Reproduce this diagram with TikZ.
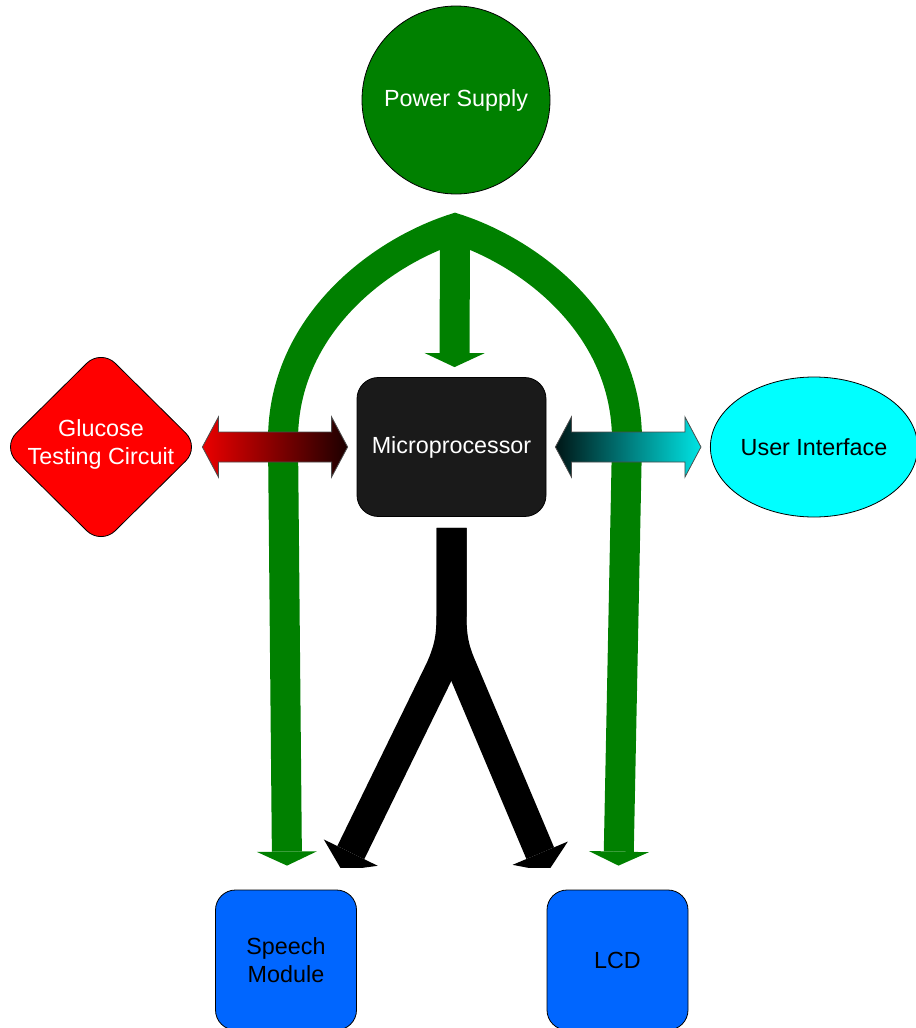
\documentclass[tikz,border=0pt]{standalone}
\usepackage{fontspec}
\setmainfont{Liberation Sans}
\usetikzlibrary{arrows.meta,shapes.geometric,calc}
\definecolor{pwrgreen}{RGB}{0,128,0}
\definecolor{cpugray}{RGB}{26,26,26}
\definecolor{modblue}{RGB}{0,102,255}
\definecolor{uicyan}{RGB}{0,255,255}
\definecolor{redlight}{RGB}{235,0,0}
\definecolor{reddark}{RGB}{28,0,0}
\definecolor{cyandark}{RGB}{0,22,22}
\definecolor{cyanlight}{RGB}{0,228,228}

\begin{document}
\begin{tikzpicture}[x=0.75pt,y=-0.75pt,
  every node/.style={font=\fontsize{17.5}{20.5}\selectfont,align=center,inner sep=0pt},
  modbox/.style={draw,line width=0.6pt,fill=modblue,rounded corners=15pt,
    minimum width=105.75pt,minimum height=105pt},
  gline/.style={draw=pwrgreen,line width=22.5pt,line join=miter},
  bline/.style={draw=black,line width=22.5pt},
  gtip/.tip={Triangle[width=45pt,length=10.5pt,line width=0pt]},
  btip/.tip={Triangle[width=45pt,length=15pt,line width=0pt]},
  dblarrow/.style={draw=black!70,line width=0.6pt}]
  \useasboundingbox (0,0) rectangle (915,1028);

  \node[circle,draw,line width=0.6pt,fill=pwrgreen,text=white,minimum size=141pt]
    (power) at (456,100) {Power Supply};
  \node[rounded corners=16pt,draw,line width=0.6pt,fill=cpugray,text=white,
    minimum width=141.75pt,minimum height=104.25pt] (micro) at (451.5,447) {Microprocessor};
  \node[diamond,draw,line width=0.6pt,fill=red,rounded corners=15pt,
    minimum width=148.5pt,minimum height=147pt,
    label={[text=white,yshift=2pt]center:Glucose\\Testing Circuit}] (glucose) at (101,447) {};
  \node[ellipse,draw,line width=0.6pt,fill=uicyan,minimum width=153pt,minimum height=105pt]
    (ui) at (814,447) {User Interface};
  \node[modbox] (speech) at (286,960) {Speech\\Module};
  \node[modbox] (lcd) at (617.5,960) {LCD};

  \coordinate (apex) at ($(power.south)+(-1,34)$);
  \coordinate (lbend) at (283,440);
  \coordinate (rbend) at (627,440);
  \coordinate (ysplit) at ($(micro.south)+(0,99)$);

  \draw[gline,{gtip}-{gtip}] ($(speech.north)+(1,-24)$) -- (lbend)
    .. controls ($(lbend)+(0,-115)$) and ($(apex)+(-75,24)$) .. (apex)
    .. controls ($(apex)+(75,24)$) and ($(rbend)+(0,-115)$) .. (rbend)
    -- ($(lcd.north)+(1,-24)$);
  \draw[gline,-{gtip}] (apex) -- ($(micro.north)+(3,-10)$);

  \coordinate (ra) at ($(glucose.east)+(2,0)$);
  \coordinate (rb) at ($(micro.west)+(-9,0)$);
  \shade[dblarrow,left color=redlight,right color=reddark] (ra) -- ++(16,-30) -- ++(0,15)
    -- ($(rb)+(-16,-15)$) -- ++(0,-15) -- (rb) -- ++(-16,30) -- ++(0,-15)
    -- ($(ra)+(16,15)$) -- ++(0,15) -- cycle;
  \coordinate (ca) at ($(micro.east)+(9,0)$);
  \coordinate (cb) at ($(ui.west)+(-9,0)$);
  \shade[dblarrow,left color=cyandark,right color=cyanlight] (ca) -- ++(16,-30) -- ++(0,15)
    -- ($(cb)+(-16,-15)$) -- ++(0,-15) -- (cb) -- ++(-16,30) -- ++(0,-15)
    -- ($(ca)+(16,15)$) -- ++(0,15) -- cycle;

  \begin{scope}
    \clip (0,0) rectangle (915,867);
    \draw[bline,-{btip}] ($(micro.south)+(0,11)$) -- (ysplit)
      .. controls +(0,25) and +(7,-16) .. ++(-11,53) -- ($(speech.north)+(56,-19)$);
    \draw[bline,-{btip}] ($(micro.south)+(0,11)$) -- (ysplit)
      .. controls +(0,25) and +(-7,-16) .. ++(11,53) -- ($(lcd.north)+(-69.5,-18)$);
  \end{scope}
\end{tikzpicture}
\end{document}
